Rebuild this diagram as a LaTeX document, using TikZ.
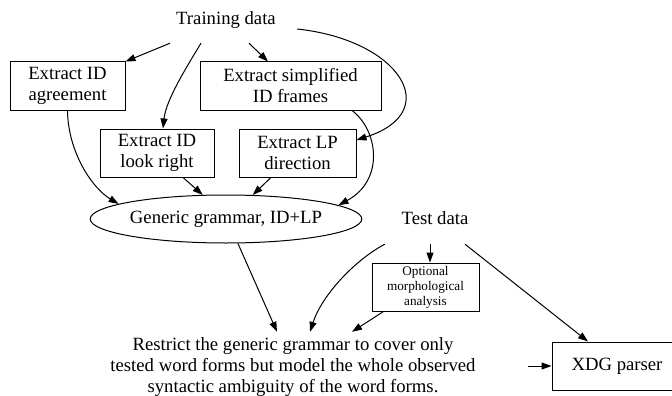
\documentclass[tikz,border=0pt]{standalone}
\usepackage{fontspec}
\setmainfont{Liberation Serif}
\usetikzlibrary{arrows.meta,shapes.geometric}
\begin{document}
\begin{tikzpicture}[x=1pt,y=-1pt,
  big/.style={font=\fontsize{18.7}{21}\selectfont},
  small/.style={font=\fontsize{13.2}{15}\selectfont},
  box/.style={draw,line width=1pt,inner sep=0pt,align=center,big},
  plain/.style={inner sep=0pt,align=center},
  edge/.style={line width=1pt,-{Triangle[length=10pt,width=7pt]}}]
\useasboundingbox (0,0) rectangle (672,396);
\node[plain,big,minimum width=142pt,minimum height=46pt] (train) at (226,20) {Training data};
\node[box,minimum width=115pt,minimum height=48pt] (A) at (67.5,86) {Extract ID\\agreement};
\node[box,minimum width=181pt,minimum height=48pt] (B) at (290.5,86) {Extract simplified\\ID frames};
\node[box,minimum width=114pt,minimum height=48pt] (C) at (157,153) {Extract ID\\look right};
\node[box,minimum width=117pt,minimum height=48pt] (D) at (297.5,153) {Extract LP\\direction};
\node[draw,ellipse,line width=1pt,inner sep=0pt,big,minimum width=268pt,minimum height=48pt] (G) at (226,219) {Generic grammar, ID+LP};
\node[plain,big,minimum width=100pt,minimum height=52pt] (T) at (435,218) {Test data};
\node[draw,line width=1pt,inner sep=0pt,align=center,small,minimum width=107pt,minimum height=48pt] (O) at (425.5,287) {Optional\\morphological\\analysis};
\node[plain,big,minimum height=71pt] (R) at (293,367.5) {Restrict the generic grammar to cover only\\tested word forms but model the whole observed\\syntactic ambiguity of the word forms.};
\node[box,minimum width=130pt,minimum height=48pt] (X) at (617,366) {XDG parser};
\coordinate (in) at (528,366);

\draw[edge] ([xshift=-56pt]train.south) -- (A.north east);
\draw[edge] ([xshift=-25pt]train.south) .. controls (186,68) and (166,100) .. ([xshift=6pt]C.north);
\draw[edge] ([xshift=23pt]train.south) -- ([xshift=-22.5pt]B.north);
\draw[edge] ([yshift=-9pt]train.east) .. controls (400,40) and (445,112) .. ([yshift=13pt]D.east);
\draw[edge] (A.south) .. controls (68,152) and (92,188) .. (G.172.5);
\draw[edge] ([xshift=26pt]C.south) -- (G.134.3);
\draw[edge] ([xshift=-26.5pt]D.south) -- (G.42.1);
\draw[edge] ([xshift=61.5pt]B.south) .. controls (378,130) and (385,180) .. (G.7.3);
\draw[edge] (G.296.1) -- ([xshift=-16pt]R.north);
\draw[edge] (T.south west) .. controls (355,260) and (322,295) .. ([xshift=17pt]R.north);
\draw[edge] ([xshift=-5pt]T.south) -- ([xshift=4.5pt]O.north);
\draw[edge] ([xshift=-42pt]O.south) -- ([xshift=59pt]R.north);
\draw[edge] ([xshift=30pt]T.south) -- ([xshift=-29pt]X.north);
\draw[edge] (in) -- (X.west);
\end{tikzpicture}
\end{document}
